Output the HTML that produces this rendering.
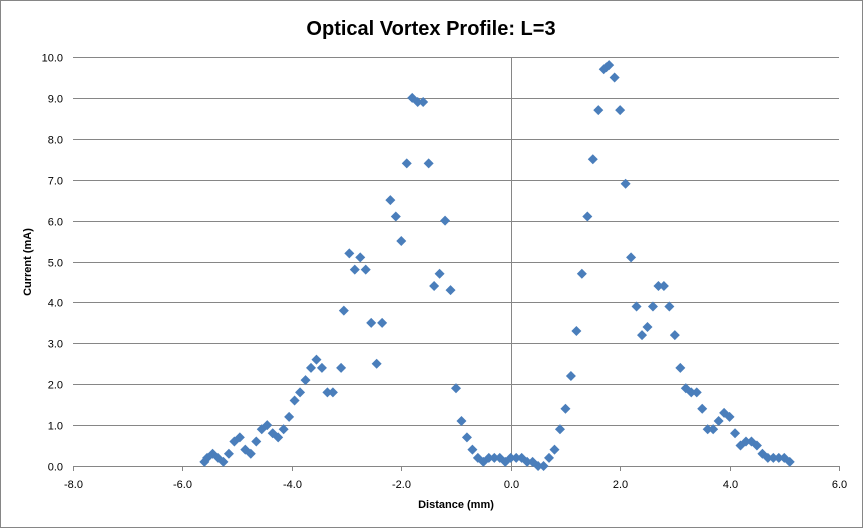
<!DOCTYPE html>
<html><head><meta charset="utf-8"><style>
html,body{margin:0;padding:0;background:#fff}
svg{display:block;font-family:"Liberation Sans",Arial,sans-serif}
</style></head><body>
<svg id="chart" width="863" height="528">
<rect x="0.5" y="0.5" width="862" height="527" fill="#fff" stroke="#868686"/>
<text x="431" y="35" text-anchor="middle" font-size="20" font-weight="bold" fill="#000">Optical Vortex Profile: L=3</text>
<g id="grid"></g>
<g id="axes"></g>
<g id="marks"></g>
<text transform="translate(31,262) rotate(-90)" text-anchor="middle" font-size="11" font-weight="bold">Current (mA)</text>
<text x="456" y="508" text-anchor="middle" font-size="11" font-weight="bold">Distance (mm)</text>
</svg>
<script>
const xs=[-5.6,-5.55,-5.45,-5.35,-5.25,-5.15,-5.05,-4.95,-4.85,-4.75,-4.65,-4.55,-4.45,-4.35,-4.25,-4.15,-4.05,-3.95,-3.85,-3.75,-3.65,-3.55,-3.45,-3.35,-3.25,-3.1,-3.05,-2.95,-2.85,-2.75,-2.65,-2.55,-2.45,-2.35,-2.2,-2.1,-2.0,-1.9,-1.8,-1.7,-1.6,-1.5,-1.4,-1.3,-1.2,-1.1,-1.0,-0.9,-0.8,-0.7,-0.6,-0.5,-0.4,-0.3,-0.2,-0.1,0,0.1,0.2,0.3,0.4,0.5,0.6,0.7,0.8,0.9,1.0,1.1,1.2,1.3,1.4,1.5,1.6,1.7,1.75,1.8,1.9,2.0,2.1,2.2,2.3,2.4,2.5,2.6,2.7,2.8,2.9,3.0,3.1,3.2,3.3,3.4,3.5,3.6,3.7,3.8,3.9,4.0,4.1,4.2,4.3,4.4,4.5,4.6,4.7,4.8,4.9,5.0,5.1];
const ys=[0.1,0.2,0.3,0.2,0.1,0.3,0.6,0.7,0.4,0.3,0.6,0.9,1.0,0.8,0.7,0.9,1.2,1.6,1.8,2.1,2.4,2.6,2.4,1.8,1.8,2.4,3.8,5.2,4.8,5.1,4.8,3.5,2.5,3.5,6.5,6.1,5.5,7.4,9.0,8.9,8.9,7.4,4.4,4.7,6.0,4.3,1.9,1.1,0.7,0.4,0.2,0.1,0.2,0.2,0.2,0.1,0.2,0.2,0.2,0.1,0.1,0.0,0.0,0.2,0.4,0.9,1.4,2.2,3.3,4.7,6.1,7.5,8.7,9.7,9.75,9.8,9.5,8.7,6.9,5.1,3.9,3.2,3.4,3.9,4.4,4.4,3.9,3.2,2.4,1.9,1.8,1.8,1.4,0.9,0.9,1.1,1.3,1.2,0.8,0.5,0.6,0.6,0.5,0.3,0.2,0.2,0.2,0.2,0.1];
const xTicks=[-8,-6,-4,-2,0,2,4,6];
const xTickLabels=["-8.0","-6.0","-4.0","-2.0","0.0","2.0","4.0","6.0"];
const yTicks=[0,1,2,3,4,5,6,7,8,9,10];
const yTickLabels=["0.0","1.0","2.0","3.0","4.0","5.0","6.0","7.0","8.0","9.0","10.0"];
const L=73,R=839,T=57,B=466;
const sx=v=>L+(v+8)/14*(R-L);
const sy=v=>B-v/10*(B-T);
const NS="http://www.w3.org/2000/svg";
function mk(t,a,p){const e=document.createElementNS(NS,t);for(const k in a)e.setAttribute(k,a[k]);p.appendChild(e);return e;}
const grid=document.getElementById('grid'),axes=document.getElementById('axes'),marks=document.getElementById('marks');
yTicks.forEach((v,i)=>{
  const y=Math.round(sy(v))+0.5;
  const g=mk('line',{x1:L,x2:R,y1:y,y2:y,stroke:'#868686','stroke-width':1},grid);
  
  
  const t=mk('text',{x:63,y:y+4,'text-anchor':'end','font-size':11,fill:'#000'},axes);
  t.textContent=yTickLabels[i];
  
  
});
const x0=Math.round(sx(0))+0.5;
const va=mk('line',{x1:x0,x2:x0,y1:T,y2:B,stroke:'#868686'},axes);


xTicks.forEach((v,i)=>{
  const x=Math.round(sx(v))+0.5;
  const tk=mk('line',{x1:x,x2:x,y1:B,y2:B+5,stroke:'#868686'},axes);
  
  
  const t=mk('text',{x:x,y:488,'text-anchor':'middle','font-size':11,fill:'#000'},axes);
  t.textContent=xTickLabels[i];
  
  
});
xs.forEach((v,i)=>{
  const cx=sx(v),cy=sy(ys[i]),r=5;
  const p=mk('polygon',{points:`${cx},${cy-r} ${cx+r},${cy} ${cx},${cy+r} ${cx-r},${cy}`,fill:'#4a7ebb'},marks);
  
  
});
</script>
</body></html>
